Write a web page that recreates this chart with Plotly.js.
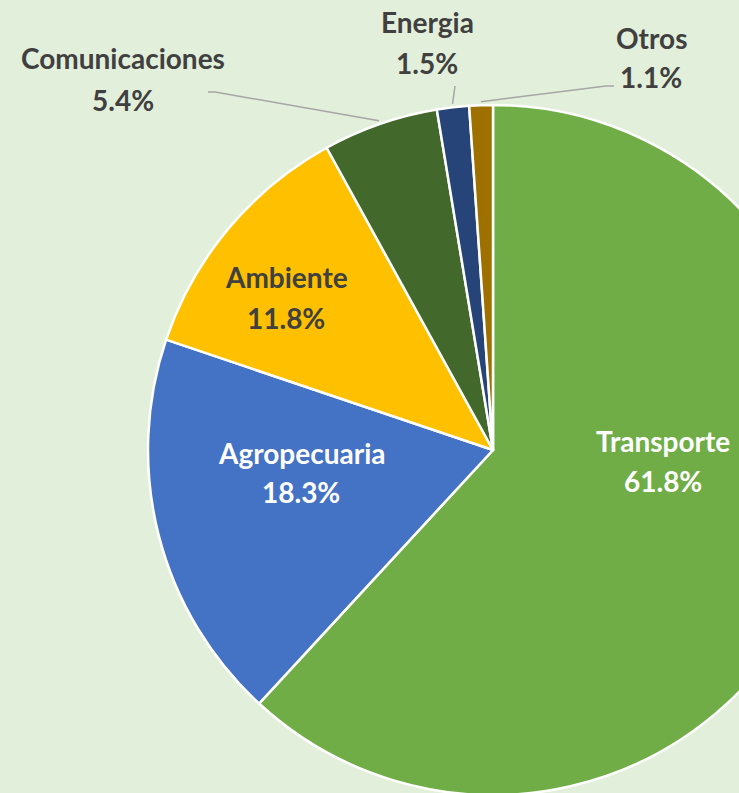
<!DOCTYPE html>
<html><head><meta charset="utf-8">
<script src="https://cdn.plot.ly/plotly-3.0.1.min.js"></script>
<style>html,body{margin:0;padding:0;overflow:hidden;background:#E2EFDA;width:739px;height:793px}</style>
</head><body>
<div id="chart" style="width:986px;height:900px"></div>
<script>
const labels = ["Transporte", "Agropecuaria", "Ambiente", "Comunicaciones", "Energia", "Otros"];
const values = [61.8, 18.3, 11.8, 5.4, 1.5, 1.1];
const colors = ["#70AD47", "#4472C4", "#FFC000", "#43682B", "#264478", "#9E7000"];

const W = 986, H = 900, CX = 493, CY = 450, R = 345;
// label centers in pixels: [nameX, nameY, pctY], text colour
const labelPos = [
  [663, 441, 481, "#FFFFFF"],
  [301, 453, 492, "#FFFFFF"],
  [286, 277, 318, "#404040"],
  [123, 58, 100, "#404040"],
  [427, 22, 63, "#404040"],
  [651, 38, 77, "#404040"]
];
// leader line waypoints (pixels) for outside labels
const leaders = {3: [[215, 92], [208, 92]], 4: [[455, 86]], 5: [[606, 86], [614, 86]]};

const px = x => x / W, py = y => 1 - y / H;
const annotations = [];
labels.forEach((lab, i) => {
  const p = labelPos[i];
  const f = {family: "Lato, 'Open Sans', sans-serif", size: 28, color: p[3]};
  annotations.push({xref: "paper", yref: "paper", x: px(p[0]), y: py(p[1]), text: "<b>" + lab + "</b>", showarrow: false, font: f, xanchor: "center", yanchor: "middle"});
  annotations.push({xref: "paper", yref: "paper", x: px(p[0]), y: py(p[2]), text: "<b>" + values[i].toFixed(1) + "%</b>", showarrow: false, font: f, xanchor: "center", yanchor: "middle"});
});

const total = values.reduce((a, b) => a + b, 0);
const shapes = [];
let cum = 0;
values.forEach((v, i) => {
  const mid = (cum + v / 2) / total * 2 * Math.PI;
  cum += v;
  if (!leaders[i]) return;
  const ex = CX + R * 1.01 * Math.sin(mid), ey = CY - R * 1.01 * Math.cos(mid);
  let path = "M" + px(ex) + "," + py(ey);
  leaders[i].forEach(pt => { path += " L" + px(pt[0]) + "," + py(pt[1]); });
  shapes.push({type: "path", xref: "paper", yref: "paper", path: path, line: {color: "#A6A6A6", width: 1.5}});
});

const data = [{
  type: "pie",
  labels: labels,
  values: values,
  sort: false,
  direction: "clockwise",
  rotation: 0,
  textinfo: "none",
  hoverinfo: "label+percent",
  marker: {colors: colors, line: {color: "#FFFFFF", width: 2.5}},
  domain: {x: [(CX - R) / W, (CX + R) / W], y: [(H - CY - R) / H, (H - CY + R) / H]},
  showlegend: false
}];

const layout = {
  width: W, height: H,
  margin: {l: 0, r: 0, t: 0, b: 0},
  paper_bgcolor: "#E2EFDA",
  plot_bgcolor: "#E2EFDA",
  showlegend: false,
  annotations: annotations,
  shapes: shapes
};
Plotly.newPlot("chart", data, layout, {displayModeBar: false, staticPlot: true});
</script>
</body></html>
